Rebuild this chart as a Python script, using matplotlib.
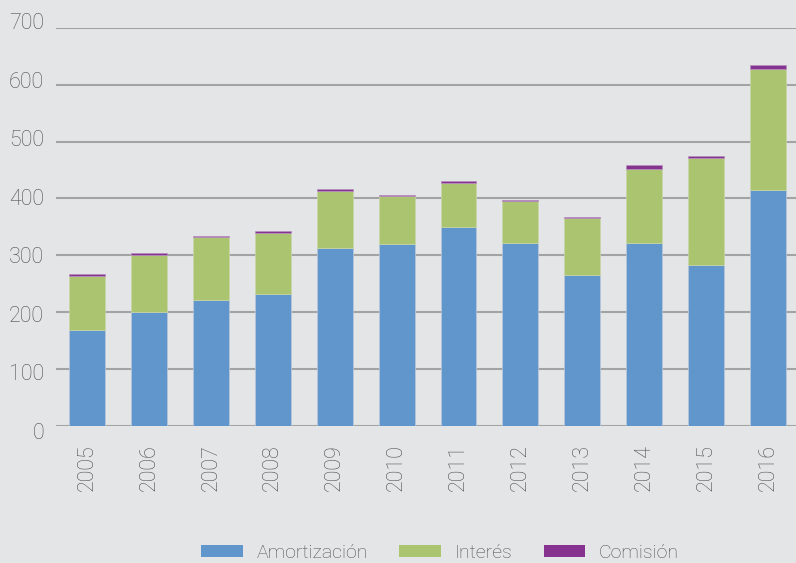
import numpy as np
from matplotlib import pyplot as plt
from matplotlib.patches import Patch
from matplotlib.transforms import ScaledTranslation

years = ["2005", "2006", "2007", "2008", "2009", "2010",
         "2011", "2012", "2013", "2014", "2015", "2016"]
amortizacion = [168, 201, 222, 232, 312, 319, 349, 322, 265, 322, 282, 415]
interes = [96, 100, 110, 108, 101, 85, 78, 73, 100, 130, 190, 213]
comision = [3, 3, 2.5, 3, 3, 2.5, 3, 3, 3, 6, 3, 7]

labels = ["Amortización", "Interés", "Comisión"]
colors = ["#6096CB", "#ABC46F", "#86338F"]

plt.rcParams['font.family'] = ['Roboto', 'DejaVu Sans']
plt.rcParams['font.weight'] = 'light'

bg = "#E4E5E7"
txt = "#4F4F4F"
fig = plt.figure(figsize=(7.96, 5.63), dpi=100, facecolor=bg)
ax = fig.add_axes([56 / 796, 1 - 425.7 / 563, 1 - 56 / 796, (425.7 - 28) / 563])
ax.set_facecolor(bg)

x = np.arange(len(years))
a = np.array(amortizacion)
i = np.array(interes)
c = np.array(comision)
w = 0.58
ax.bar(x, a, w, color=colors[0], edgecolor="#B8C8DC", linewidth=0.5, zorder=3)
ax.bar(x, i, w, bottom=a, color=colors[1], edgecolor="#C8D6A8", linewidth=0.5, zorder=3)
ax.bar(x, c, w, bottom=a + i, color=colors[2], edgecolor="#B890C0", linewidth=0.5, zorder=3)

ax.set_ylim(0, 700)
ax.set_xlim(-0.5, 11.45)
ax.set_yticks(range(0, 701, 100))
ax.set_xticks(x)
ax.set_xticklabels(years, rotation=90)
ax.tick_params(axis="both", length=0, colors=txt)
ax.tick_params(axis="y", pad=8.5, labelsize=15.5)
ax.tick_params(axis="x", pad=13, labelsize=15.5)
ax.yaxis.grid(True, color="#A3A3A3", linewidth=1.5, zorder=0)
for s in ax.spines.values():
    s.set_visible(False)

# labels on the y axis sit slightly off their grid lines in the original
for lab, v in zip(ax.get_yticklabels(), range(0, 701, 100)):
    off = 5.3 - 12.3 * v / 700
    lab.set_transform(lab.get_transform() + ScaledTranslation(0, -off / 100, fig.dpi_scale_trans))

handles = [Patch(facecolor=col, label=lab) for col, lab in zip(colors, labels)]
leg = fig.legend(handles=handles, loc="center", bbox_to_anchor=(0.553, 0.018), ncol=3,
                 frameon=False, fontsize=14, handlelength=2.15, handleheight=0.6,
                 handletextpad=0.7, columnspacing=1.6, labelcolor=txt)

fig.savefig("out.png", dpi=100, facecolor=bg)
